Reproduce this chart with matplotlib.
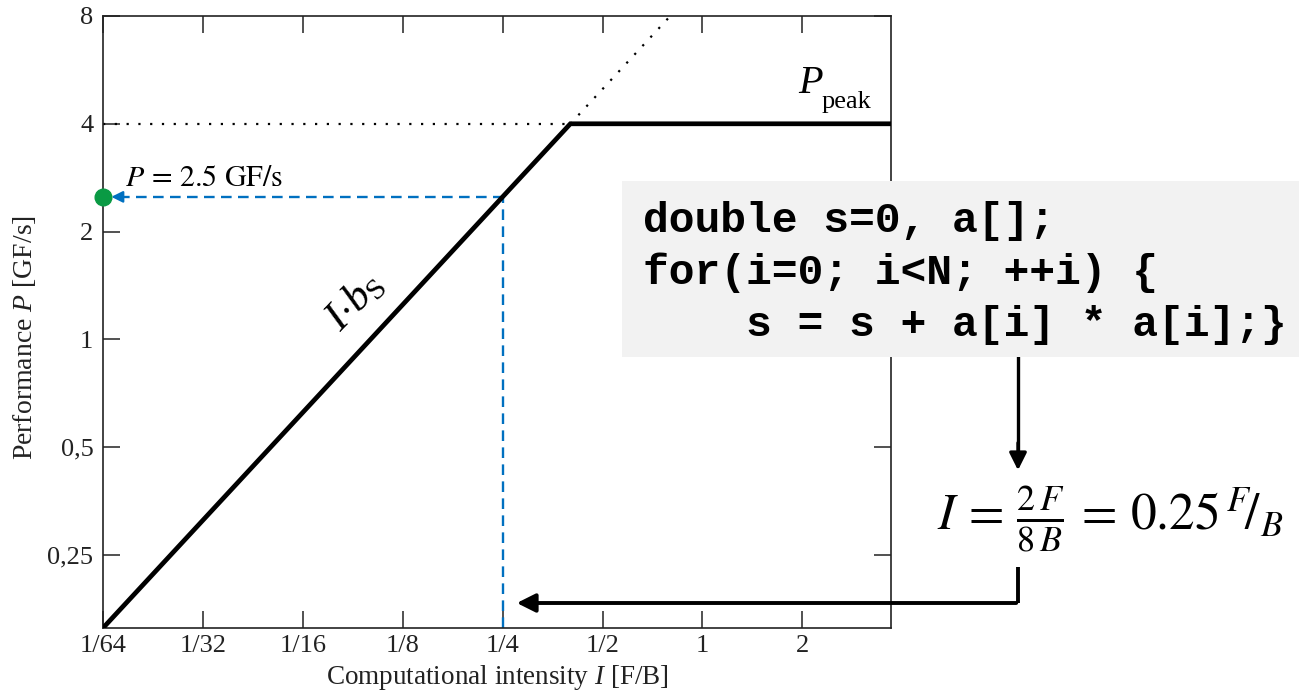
import numpy as np
import matplotlib
matplotlib.use("Agg")
import matplotlib.pyplot as plt
from matplotlib.patches import Rectangle, FancyArrowPatch
from matplotlib.lines import Line2D

plt.rcParams["font.family"] = ["Liberation Serif", "DejaVu Serif"]
plt.rcParams["mathtext.fontset"] = "custom"
plt.rcParams["mathtext.rm"] = "Liberation Serif"
plt.rcParams["mathtext.it"] = "Liberation Serif:italic"

# roofline data
roof_I = [1/64, 0.4, 3.7]
roof_P = [10/64, 4, 4]
ceil_I = [1/64, 0.4]
ceil_P = [4, 4]
bw_ext_I = [0.4, 0.8]
bw_ext_P = [4, 8]
kernel_I = 0.25
kernel_P = 2.5

x_ticks = [1/64, 1/32, 1/16, 1/8, 1/4, 1/2, 1, 2]
x_labels = ["1/64", "1/32", "1/16", "1/8", "1/4", "1/2", "1", "2"]
y_ticks = [0.25, 0.5, 1, 2, 4, 8]
y_labels = ["0,25", "0,5", "1", "2", "4", "8"]

code_lines = [
    "double s=0, a[];",
    "for(i=0; i<N; ++i) {",
    "    s = s + a[i] * a[i];}",
]

W, H = 1299, 690
fig = plt.figure(figsize=(W / 100, H / 100), dpi=100)
ax = fig.add_axes([103 / W, 1 - 628 / H, (891 - 103) / W, (628 - 16) / H])
ax.set_xscale("log", base=2)
ax.set_yscale("log", base=2)
ax.set_xlim(1/64, 3.7)
ax.set_ylim(10/64, 8)

ax.plot(roof_I, roof_P, color="black", lw=3.4, solid_joinstyle="miter", zorder=3)
ax.plot(ceil_I, ceil_P, color="black", lw=1.6, ls=(0, (1, 4.3)))
ax.plot(bw_ext_I, bw_ext_P, color="black", lw=1.6, ls=(0, (1, 4.3)), clip_on=False)

blue = "#0070c0"
ax.plot([kernel_I, kernel_I], [10/64, kernel_P], color=blue, lw=1.7, ls=(0, (4.5, 2.7)))
ax.plot([1/64 * 1.12, kernel_I], [kernel_P, kernel_P], color=blue, lw=1.7, ls=(0, (4.5, 2.7)))
ax.annotate("", xy=(1/64, kernel_P), xytext=(1/64 * 1.15, kernel_P),
            arrowprops=dict(arrowstyle="-|>", color=blue, lw=1.6,
                            mutation_scale=17, shrinkA=0, shrinkB=6))
ax.plot([1/64], [kernel_P], "o", color="#0a9a44", ms=12, clip_on=False, zorder=5)

ax.set_xticks(x_ticks)
ax.set_xticklabels(x_labels)
ax.set_yticks(y_ticks)
ax.set_yticklabels(y_labels)
ax.minorticks_off()
ax.tick_params(direction="in", length=12, width=1.1, top=True, right=True,
               labelsize=19, labelcolor="#222222", color="#222222", pad=7)
ax.tick_params(axis="x", pad=5)
for s in ax.spines.values():
    s.set_linewidth(1.2)
    s.set_color("#222222")

ax.set_xlabel("Computational intensity $I$ [F/B]", fontsize=19.5, color="#222222",
              va="top")
ax.xaxis.set_label_coords(0.5, -0.058)
ax.set_ylabel("Performance $P$ [GF/s]", fontsize=20, color="#222222")
ax.yaxis.set_label_coords(-0.083, 0.475)

# labels on the plot
fig.text(355 / W, 1 - 302 / H, r"$I{\cdot}b_{\mathrm{S}}$", fontsize=31,
         rotation=46, ha="center", va="center")
fig.text(798 / W, 1 - 93 / H, "$P$", fontsize=29, ha="left", va="baseline")
fig.text(822 / W, 1 - 108 / H, "peak", fontsize=19, ha="left", va="baseline")
fig.text(125 / W, 1 - 186 / H, r"$P\,=\,2.5\ \mathrm{GF/s}$", fontsize=21.5,
         math_fontfamily="stix", ha="left", va="baseline")

# code box
fig.add_artist(Rectangle((622 / W, 1 - 357 / H), 1 - 622 / W, (357 - 181) / H,
                         transform=fig.transFigure, facecolor="#f2f2f2",
                         edgecolor="none", zorder=5))
for k, line in enumerate(code_lines):
    fig.text(643 / W, 1 - (232 + 52 * k) / H, line, family="Liberation Mono",
             weight="bold", fontsize=31, ha="left", va="baseline", zorder=6)

# formula
fig.text(1110 / W, 1 - 519 / H, r"$I\,=\,\frac{2\,F}{8\,B}\,=\,0.25\,{}^{F}\!/_{B}$",
         fontsize=37, math_fontfamily="stix", ha="center", va="center")

# arrows
fig.add_artist(Line2D([1018 / W, 1018 / W], [1 - 357 / H, 1 - 450 / H],
                      transform=fig.transFigure, color="black", lw=2.4))
fig.add_artist(FancyArrowPatch(
    (1018 / W, 1 - 440 / H), (1018 / W, 1 - 473 / H), transform=fig.transFigure,
    arrowstyle="-|>", mutation_scale=26, color="black", lw=2.4))
fig.add_artist(Line2D([1018 / W, 1018 / W], [1 - 567 / H, 1 - 603 / H],
                      transform=fig.transFigure, color="black", lw=2.8,
                      solid_capstyle="butt"))
fig.add_artist(FancyArrowPatch(
    (1019 / W, 1 - 603 / H), (514 / W, 1 - 603 / H), transform=fig.transFigure,
    arrowstyle="-|>", mutation_scale=28, color="black", lw=2.8, zorder=6))

fig.savefig("out.png", dpi=100)
